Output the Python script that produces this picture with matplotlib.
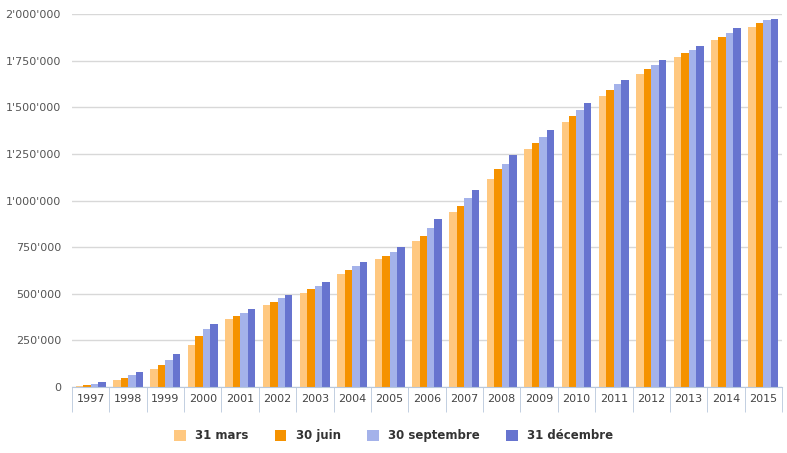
import matplotlib
matplotlib.use('Agg')
import matplotlib.pyplot as plt
import numpy as np
from matplotlib.ticker import FuncFormatter

years = [str(y) for y in range(1997, 2016)]
mars = [7, 39, 98, 226, 364, 439, 503, 604, 689, 784, 939, 1115, 1275, 1420, 1558, 1676, 1772, 1858, 1932]
juin = [12, 50, 119, 274, 380, 455, 524, 625, 705, 811, 971, 1168, 1307, 1452, 1590, 1703, 1793, 1879, 1954]
septembre = [18, 66, 146, 311, 396, 476, 540, 647, 726, 853, 1013, 1195, 1339, 1484, 1622, 1729, 1809, 1900, 1970]
decembre = [28, 82, 178, 337, 417, 492, 561, 668, 753, 901, 1056, 1243, 1377, 1521, 1644, 1751, 1831, 1927, 1975]

series = [
    ("31 mars", mars, "#ffc880"),
    ("30 juin", juin, "#f59200"),
    ("30 septembre", septembre, "#a4b2ea"),
    ("31 décembre", decembre, "#6774cf"),
]

fig = plt.figure(figsize=(7.87, 4.53), dpi=100)
ax = fig.add_axes([72 / 787, 1 - 387 / 453, 710 / 787, 373 / 453])

x = np.arange(len(years))
w = 0.2
for i, (name, vals, col) in enumerate(series):
    ax.bar(x + (i - 1.5) * w, np.array(vals) * 1000, width=w, color=col, label=name, zorder=2)

ax.set_xlim(-0.5, len(years) - 0.5)
ax.set_ylim(0, 2000000)
ax.set_yticks(np.arange(0, 2000001, 250000))
ax.yaxis.set_major_formatter(FuncFormatter(lambda v, p: f"{int(v):,}".replace(",", "'")))
ax.grid(axis="y", color="#d8d8d8", linewidth=1, zorder=0)
ax.set_xticks(x)
ax.set_xticklabels(years)
ax.set_xticks(np.arange(-0.5, len(years)), minor=True)
ax.tick_params(axis="x", which="major", length=0, pad=5, labelsize=8, colors="#444444")
ax.tick_params(axis="x", which="minor", length=18, color="#b8c8dc", direction="out")
ax.tick_params(axis="y", length=0, labelsize=8, colors="#555555", pad=8)
for s in ["top", "right", "left"]:
    ax.spines[s].set_visible(False)
ax.spines["bottom"].set_color("#b8c8dc")

leg = fig.legend(loc="lower center", bbox_to_anchor=(0.5, 0.0), ncol=4, frameon=False,
                 fontsize=8.5, handlelength=1.0, handleheight=1.0, columnspacing=2.2,
                 prop={"weight": "bold", "size": 8.5})
for t in leg.get_texts():
    t.set_color("#333333")

fig.savefig("out.png")
